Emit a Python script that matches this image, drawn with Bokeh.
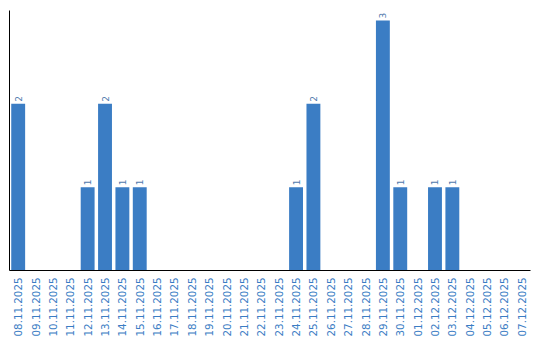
import math
from bokeh.plotting import figure
from bokeh.models import FactorRange, Range1d, ColumnDataSource, FixedTicker
from bokeh.core.properties import value
from bokeh.embed import file_html
from bokeh.resources import INLINE

dates = ["08.11.2025", "09.11.2025", "10.11.2025", "11.11.2025", "12.11.2025",
         "13.11.2025", "14.11.2025", "15.11.2025", "16.11.2025", "17.11.2025",
         "18.11.2025", "19.11.2025", "20.11.2025", "21.11.2025", "22.11.2025",
         "23.11.2025", "24.11.2025", "25.11.2025", "26.11.2025", "27.11.2025",
         "28.11.2025", "29.11.2025", "30.11.2025", "01.12.2025", "02.12.2025",
         "03.12.2025", "04.12.2025", "05.12.2025", "06.12.2025", "07.12.2025"]
counts = [2, 0, 0, 0, 1, 2, 1, 1, 0, 0,
          0, 0, 0, 0, 0, 0, 1, 2, 0, 0,
          0, 3, 1, 0, 1, 1, 0, 0, 0, 0]

BLUE = "#3b7dc4"
LABEL = "#4f79ad"

src = ColumnDataSource(dict(x=dates, y=counts))
lab_x = [d for d, c in zip(dates, counts) if c > 0]
lab_y = [c for c in counts if c > 0]
lab_t = [str(c) for c in lab_y]
lab_src = ColumnDataSource(dict(x=lab_x, y=lab_y, t=lab_t))

p = figure(width=540, height=340, x_range=FactorRange(*dates, range_padding=0),
           y_range=Range1d(0, 3.12), output_backend="svg", toolbar_location=None,
           min_border_left=9, min_border_right=10, min_border_top=10, min_border_bottom=70)
p.outline_line_color = None
p.xgrid.visible = False
p.ygrid.visible = False

p.vbar(x="x", top="y", width=0.8, source=src, color=BLUE, line_color=None)
p.text(x="x", y="y", text="t", source=lab_src, angle=math.pi / 2,
       text_align="left", text_baseline="middle", text_font_size="9px",
       text_color=LABEL, text_font=value("DejaVu Sans"), y_offset=-2)

p.xaxis.axis_line_color = "black"
p.xaxis.major_tick_line_color = None
p.xaxis.minor_tick_line_color = None
p.xaxis.major_label_orientation = math.pi / 2
p.xaxis.major_label_text_font = "DejaVu Sans"
p.xaxis.major_label_text_font_size = "10.3px"
p.xaxis.major_label_text_color = BLUE
p.xaxis.major_label_standoff = 1

p.yaxis.ticker = FixedTicker(ticks=[])
p.yaxis.axis_line_color = "black"
p.yaxis.major_tick_line_color = None
p.yaxis.minor_tick_line_color = None
p.yaxis.major_label_standoff = 0

open("out.html", "w").write(file_html(p, INLINE))
